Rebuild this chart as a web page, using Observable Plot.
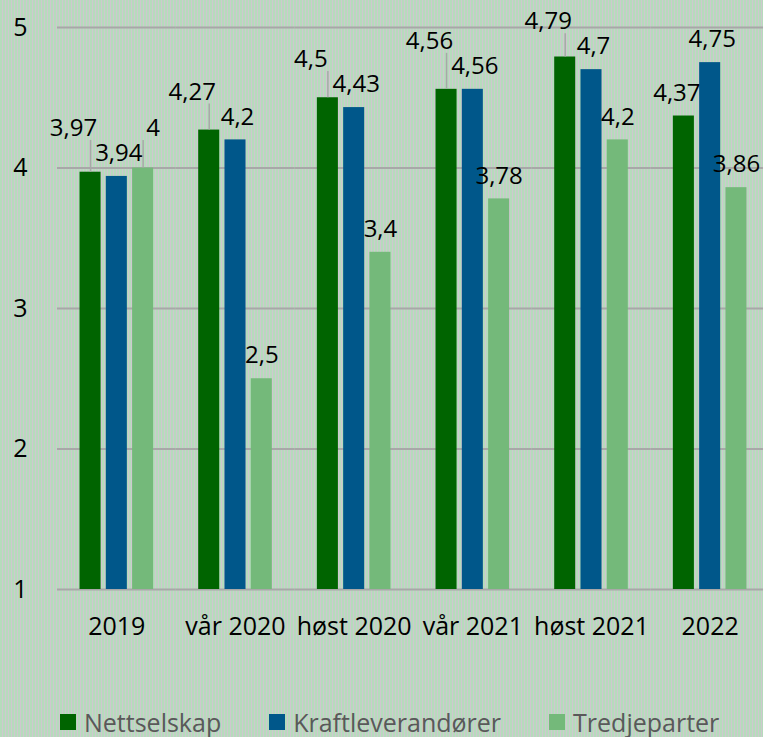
<!DOCTYPE html>
<html><head><meta charset="utf-8">
<script src="https://cdn.jsdelivr.net/npm/d3@7"></script>
<script src="https://cdn.jsdelivr.net/npm/@observablehq/plot@0.6"></script>
<style>
html,body{margin:0;padding:0;width:763px;height:737px;overflow:hidden;}
body{background: repeating-linear-gradient(90deg, #b6dbbc 0px, #b6dbbc 2px, #cfc8cf 2px, #cfc8cf 3px); font-family: "Open Sans", sans-serif;}
#chart svg{display:block;}
#legend{display:flex; align-items:center; height:57px; padding-top:13px; padding-left:60px; gap:48px; font-size:25px; color:#595959; white-space:nowrap;}
.item{display:flex;align-items:center;}
.sw{width:16px;height:16px;margin-right:8px;}
</style></head><body>
<div id="chart"></div>
<div id="legend"></div>
<script>
const categories = ["2019","vår 2020","høst 2020","vår 2021","høst 2021","2022"];
const seriesNames = ["Nettselskap","Kraftleverandører","Tredjeparter"];
const nettselskap = [3.97,4.27,4.5,4.56,4.79,4.37];
const kraftleverandorer = [3.94,4.2,4.43,4.56,4.7,4.75];
const tredjeparter = [4,2.5,3.4,3.78,4.2,3.86];
const seriesValues = [nettselskap, kraftleverandorer, tredjeparter];
const colors = ["#006400","#00578a","#74b97a"];
const yTicks = [1,2,3,4,5];

const W = 763, H = 680, mt = 27, mb = 91, ml = 57, mr = -6;
const pInner = 0.2, pOuter = 0.857;
const dxs = [-7, 2, 0];
const raisedDx = [-10, 0, 10];
const labelSize = 24;
const k = (H - mt - mb) / (5 - 1);
const groupW = (W - ml - mr) / categories.length;
const step = groupW / (seriesNames.length - pInner + 2 * pOuter);
const fmt = v => String(v).replace(".", ",");

const ctx = document.createElement("canvas").getContext("2d");
ctx.font = labelSize + "px 'Open Sans'";

const data = [];
const labels = [];
categories.forEach((c, g) => {
  const group = seriesNames.map((s, i) => {
    const v = seriesValues[i][g];
    data.push({cat: c, series: s, value: v});
    const txt = fmt(v);
    const top = (5 - v) * k;
    return {cat: c, series: s, si: i, value: v, label: txt, w: ctx.measureText(txt).width,
            cx: i * step + dxs[i], yc: top - 23, yc0: top - 23, top};
  });
  const rowH = 25;
  for (let iter = 0; iter < 6; iter++) {
    for (let a = 0; a < group.length; a++) for (let b = a + 1; b < group.length; b++) {
      const L = group[a], R = group[b];
      const hOver = L.cx + L.w / 2 + 3 > R.cx - R.w / 2;
      const vOver = Math.abs(L.yc - R.yc) < rowH;
      if (hOver && vOver) {
        const up = R.value > L.value ? R : L;
        const other = up === L ? R : L;
        up.yc = Math.min(up.yc, other.yc - rowH);
      }
    }
  }
  group.forEach(d => {
    d.labelY = 5 - d.yc / k;
    d.raised = d.yc < d.yc0 - 4;
    d.leaderTop = 5 - (d.yc + 12) / k;
    labels.push(d);
  });
});

const textMarks = [];
seriesNames.forEach((s, i) => {
  [false, true].forEach(r => {
    textMarks.push(Plot.text(labels.filter(d => d.si === i && d.raised === r), {
      fx: "cat", x: "series", y: "labelY", text: "label",
      dx: dxs[i] + (r ? raisedDx[i] : 0),
      fontSize: labelSize, fill: "black"
    }));
  });
});

const chart = Plot.plot({
  width: W, height: H,
  marginTop: mt, marginBottom: mb, marginLeft: ml, marginRight: mr,
  style: {background: "transparent", fontFamily: "'Open Sans', sans-serif", fontSize: "25px", overflow: "visible"},
  fx: {domain: categories, padding: 0, label: null, tickSize: 0, tickPadding: 28, round: false},
  x: {domain: seriesNames, axis: null, paddingInner: pInner, paddingOuter: pOuter, round: false},
  y: {domain: [1, 5], ticks: yTicks, tickSize: 0, tickPadding: 30, label: null, tickFormat: "d"},
  color: {domain: seriesNames, range: colors},
  marks: [
    Plot.ruleY(yTicks, {stroke: "#a8a8a8", strokeWidth: 2}),
    Plot.barY(data, {fx: "cat", x: "series", y1: 1, y2: "value", fill: "series"}),
    Plot.ruleX(labels.filter(d => d.raised), {fx: "cat", x: "series", y1: "value", y2: "leaderTop", stroke: "#a8a8a8", strokeWidth: 1.5}),
    ...textMarks
  ]
});
document.getElementById("chart").appendChild(chart);

const legend = document.getElementById("legend");
seriesNames.forEach((s, i) => {
  const item = document.createElement("div");
  item.className = "item";
  const sw = document.createElement("span");
  sw.className = "sw";
  sw.style.background = colors[i];
  const t = document.createElement("span");
  t.textContent = s;
  item.appendChild(sw); item.appendChild(t);
  legend.appendChild(item);
});
</script>
</body></html>
